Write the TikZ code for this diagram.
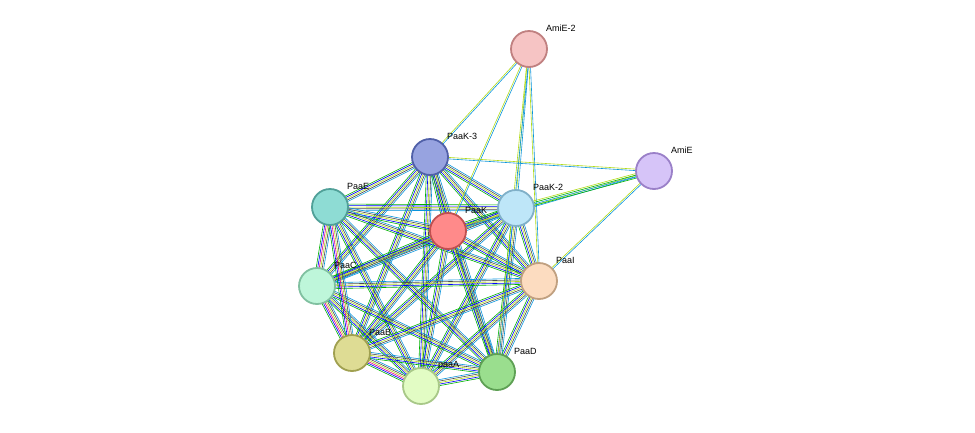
\documentclass[tikz,border=0pt]{standalone}
\usepackage{fontspec}
\usetikzlibrary{calc}
\setmainfont{Liberation Sans}
\begin{document}
\begin{tikzpicture}[x=1pt,y=-1pt,
  prot/.style={circle,minimum size=36pt,inner sep=0pt,line width=1.8pt},
  lab/.style={anchor=west,font=\fontsize{9}{10}\selectfont,inner sep=0pt}]
\useasboundingbox (0,0) rectangle (975,432);
\def\P#1#2#3#4#5{\definecolor{f#1}{HTML}{#4}\definecolor{b#1}{HTML}{#5}\coordinate (#1) at (#2,#3);}
\P{amie2}{529}{49}{F6C4C4}{C08080}
\P{paak3}{430}{157}{97A3E0}{5060A8}
\P{amie}{654}{171}{D6C4F8}{9A80C8}
\P{paak2}{516}{208}{BEE6F8}{80B0C8}
\P{paae}{330}{207}{8EDCD4}{50A098}
\P{paak}{448}{231}{FF8A8A}{C05050}
\P{paac}{317}{286}{BEF6DA}{80C0A0}
\P{paai}{539}{281}{FCDCC0}{C0A080}
\P{paab}{352}{353}{DEDC94}{A0A050}
\P{paaa}{421}{386}{E2FCC4}{A8C888}
\P{paad}{497}{372}{9ADE8E}{5EA054}
\newcommand\edgeset[4]{%
 \foreach \c [count=\i] in {#3} {\pgfmathsetmacro\o{(\i-1)*1.5-#4}
 \draw[\c,line width=0.6pt] ($(#1)!\o pt!90:(#2)$) -- ($(#2)!-\o pt!90:(#1)$);}}
\foreach \a/\b in {paak3/paak2,paak3/paae,paak3/paak,paak3/paac,paak3/paai,paak3/paab,paak3/paaa,paak3/paad,
 paak2/paae,paak2/paak,paak2/paac,paak2/paai,paak2/paab,paak2/paaa,paak2/paad,
 paae/paak,paae/paai,paae/paaa,paae/paad,
 paak/paac,paak/paai,paak/paab,paak/paaa,paak/paad,
 paac/paai,paac/paaa,paac/paad,
 paai/paab,paai/paaa,paai/paad,paab/paad,paaa/paad}
 {\edgeset{\a}{\b}{green!70!black,blue,yellow!70!green,black!70,cyan!80!blue}{3}}
\foreach \a/\b in {paae/paac,paac/paab,paab/paaa,paae/paab}
 {\edgeset{\a}{\b}{green!70!black,blue,magenta,yellow!70!green,black!70,cyan!80!blue}{3.75}}
\foreach \a/\b in {amie2/paak3,amie2/paak,amie2/paak2,amie2/paai,amie2/paad,amie/paak3,amie/paak,amie/paai}
 {\edgeset{\a}{\b}{yellow!70!green,cyan!80!blue}{0.75}}
\edgeset{amie}{paak2}{yellow!70!green,green!70!black,cyan!80!blue,green!70!black}{2.25}
\foreach \n/\t in {amie2/AmiE-2,paak3/PaaK-3,amie/AmiE,paak2/PaaK-2,paae/PaaE,paak/PaaK,paac/PaaC,paai/PaaI,paab/PaaB,paaa/paaA,paad/PaaD}{
 \node[prot,fill=f\n,draw=b\n] (n\n) at (\n) {};
 \node[lab] (l\n) at ([shift={(17,-21)}]\n) {\t};}
\end{tikzpicture}
\end{document}
